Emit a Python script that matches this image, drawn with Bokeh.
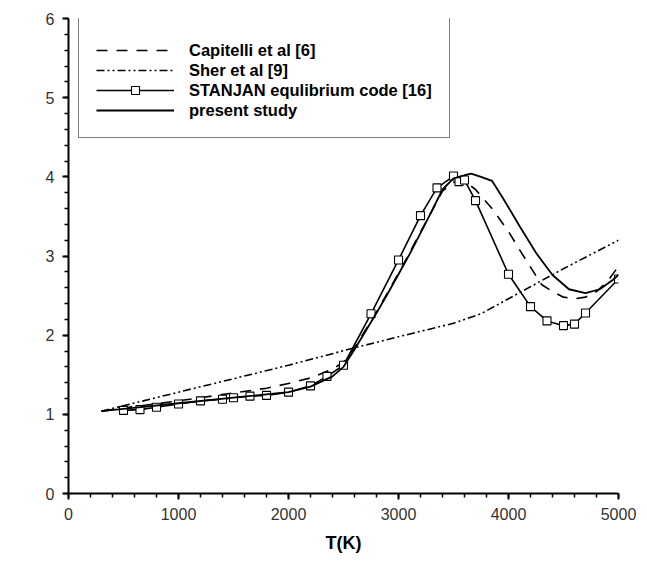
from math import pi
from bokeh.plotting import figure
from bokeh.models import Range1d, Legend, LegendItem, FixedTicker, Label
from bokeh.embed import file_html
from bokeh.resources import INLINE

# ---- data ----
T_present = [300, 500, 1000, 1500, 2000, 2200, 2400, 2500, 2600, 2700, 2800, 2900, 3000,
             3100, 3200, 3300, 3400, 3500, 3600, 3660, 3750, 3850, 3950, 4100, 4250,
             4400, 4550, 4700, 4830, 4950, 5000]
cp_present = [1.04, 1.07, 1.14, 1.21, 1.28, 1.35, 1.48, 1.60, 1.82, 2.05, 2.28, 2.52, 2.77,
              3.02, 3.29, 3.56, 3.84, 3.98, 4.02, 4.04, 4.00, 3.95, 3.73, 3.38, 3.04,
              2.76, 2.58, 2.53, 2.58, 2.70, 2.76]

T_stanjan = [500, 650, 800, 1000, 1200, 1400, 1500, 1650, 1800, 2000, 2200, 2350, 2500,
             2750, 3000, 3200, 3350, 3500, 3550, 3600, 3700, 4000, 4200, 4350, 4500,
             4600, 4700, 5000]
cp_stanjan = [1.05, 1.06, 1.09, 1.13, 1.17, 1.19, 1.21, 1.23, 1.24, 1.28, 1.36, 1.48, 1.62,
              2.27, 2.95, 3.51, 3.86, 4.01, 3.94, 3.96, 3.70, 2.77, 2.36, 2.18, 2.12,
              2.14, 2.28, 2.71]

T_capitelli = [300, 500, 1000, 1500, 1800, 2000, 2200, 2400, 2500, 2600, 2800, 3000, 3200,
               3400, 3500, 3600, 3700, 3850, 4000, 4100, 4200, 4300, 4400, 4500, 4600,
               4700, 4800, 4900, 5000]
cp_capitelli = [1.04, 1.08, 1.17, 1.27, 1.33, 1.39, 1.46, 1.57, 1.66, 1.84, 2.29, 2.78, 3.30,
                3.82, 3.93, 3.95, 3.84, 3.60, 3.31, 3.08, 2.86, 2.64, 2.55, 2.48, 2.46,
                2.48, 2.55, 2.68, 2.87]

T_sher = [300, 1000, 2000, 2600, 3000, 3500, 3750, 4000, 4500, 5000]
cp_sher = [1.04, 1.28, 1.62, 1.84, 1.98, 2.15, 2.27, 2.46, 2.84, 3.20]

labels = ["Capitelli et al [6]", "Sher et al [9]", "STANJAN equlibrium code [16]", "present study"]
x_ticks = [0, 1000, 2000, 3000, 4000, 5000]
y_ticks = [0, 1, 2, 3, 4, 5, 6]
x_title = "T(K)"
y_title = "c\u209a (kJ/kg.K)"

FONT = "Liberation Sans"

p = figure(width=638, height=555, output_backend="svg", toolbar_location=None,
           x_range=Range1d(0, 5000), y_range=Range1d(0, 6),
           min_border_left=68, min_border_right=20, min_border_top=18, min_border_bottom=57)
p.outline_line_color = None
p.grid.visible = False
p.background_fill_color = "white"

r_cap = p.line(T_capitelli, cp_capitelli, line_color="black", line_width=1.6, line_dash="11 9")
r_sher = p.line(T_sher, cp_sher, line_color="black", line_width=1.6, line_dash="8 3 2 3 2 3")
r_stl = p.line(T_stanjan, cp_stanjan, line_color="black", line_width=1.6)
r_sts = p.scatter(T_stanjan, cp_stanjan, marker="square", size=8, line_color="black",
                  fill_color="white", line_width=1.1)
r_pre = p.line(T_present, cp_present, line_color="black", line_width=1.8)

for ax in (p.xaxis[0], p.yaxis[0]):
    ax.axis_line_width = 2
    ax.axis_line_color = "black"
    ax.major_tick_line_width = 2
    ax.minor_tick_line_width = 1.5
    ax.major_tick_out = 6
    ax.major_tick_in = 0
    ax.minor_tick_out = 4
    ax.minor_tick_in = 0
    ax.major_label_text_font = FONT
    ax.major_label_text_font_size = "16px"
    ax.major_label_text_color = "#333333"
    ax.axis_label_text_font = FONT
    ax.axis_label_text_font_size = "18px"
    ax.axis_label_text_font_style = "bold"
    ax.axis_label_text_color = "black"

p.xaxis.ticker = FixedTicker(ticks=x_ticks, minor_ticks=list(range(0, 5001, 200)))
p.yaxis.ticker = FixedTicker(ticks=y_ticks, minor_ticks=[i / 5 for i in range(0, 31)])
p.xaxis.major_label_standoff = 8
p.yaxis.major_label_standoff = 8
p.xaxis.axis_label = x_title
p.xaxis.axis_label_standoff = 10

# y-axis title, placed a little below the axis centre as in the reference
ylab = Label(x=-32, y=200, x_units="screen", y_units="screen", text=y_title, angle=pi / 2,
             text_align="center", text_baseline="middle", text_font=FONT,
             text_font_size="18px", text_font_style="bold", text_color="black")
p.add_layout(ylab)

legend = Legend(items=[
    LegendItem(label=labels[0], renderers=[r_cap]),
    LegendItem(label=labels[1], renderers=[r_sher]),
    LegendItem(label=labels[2], renderers=[r_stl, r_sts]),
    LegendItem(label=labels[3], renderers=[r_pre]),
], location=(10, 355), margin=0, padding=17, spacing=0,
    title=" ", title_text_font_size="5px", title_standoff=6,
    glyph_width=78, glyph_height=20, label_height=20, label_standoff=15,
    label_text_font=FONT, label_text_font_size="16.5px", label_text_font_style="bold",
    label_text_color="black", border_line_color="black", border_line_width=1,
    background_fill_color="white", background_fill_alpha=1.0)
p.add_layout(legend, "center")

open("out.html", "w").write(file_html(p, INLINE))
